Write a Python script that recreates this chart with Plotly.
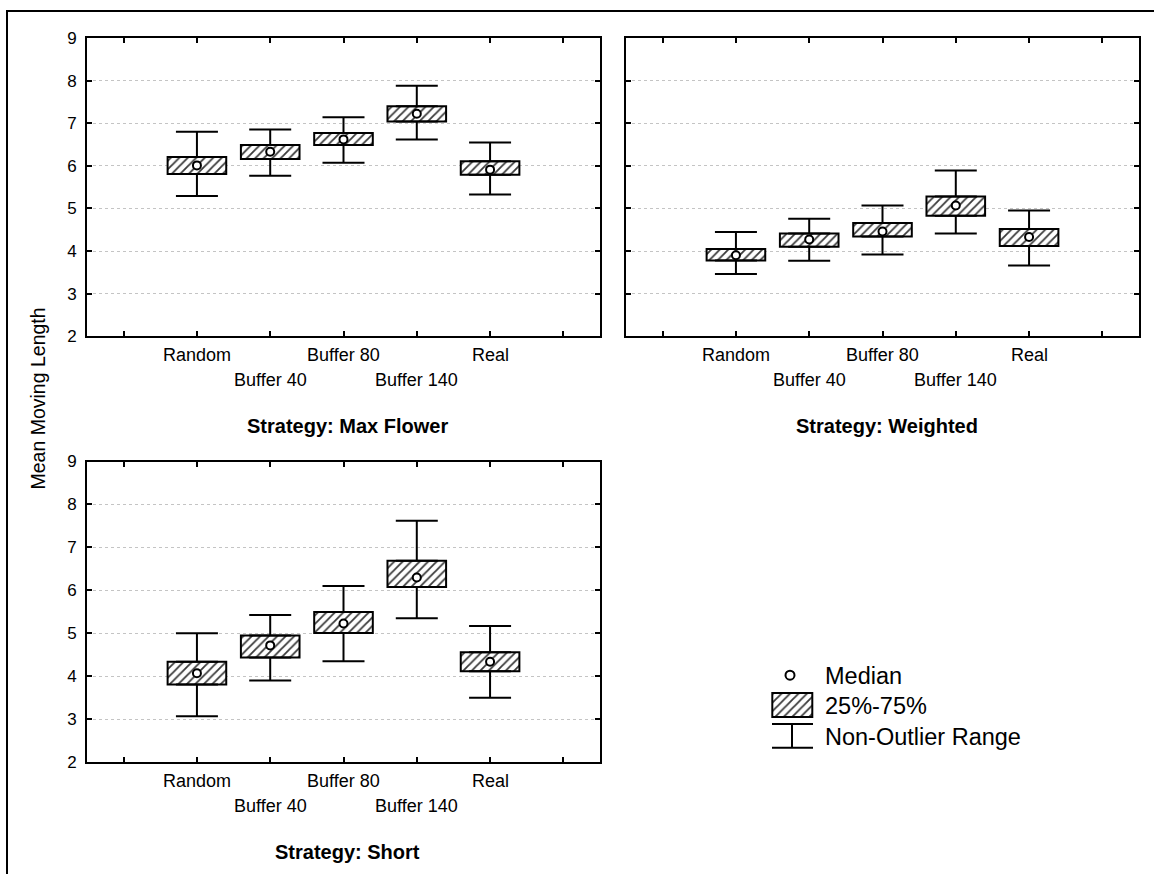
import plotly.graph_objects as go

# ---- data -------------------------------------------------------------
categories = ["Random", "Buffer 40", "Buffer 80", "Buffer 140", "Real"]

# Strategy: Max Flower
mf_low = [5.29, 5.77, 6.07, 6.62, 5.33]
mf_q1 = [5.81, 6.16, 6.49, 7.04, 5.79]
mf_med = [6.01, 6.33, 6.62, 7.22, 5.91]
mf_q3 = [6.21, 6.49, 6.77, 7.40, 6.11]
mf_high = [6.80, 6.85, 7.14, 7.88, 6.55]

# Strategy: Weighted
wt_low = [3.46, 3.77, 3.92, 4.41, 3.66]
wt_q1 = [3.78, 4.10, 4.34, 4.83, 4.12]
wt_med = [3.90, 4.27, 4.46, 5.07, 4.33]
wt_q3 = [4.05, 4.41, 4.66, 5.28, 4.52]
wt_high = [4.45, 4.76, 5.07, 5.89, 4.95]

# Strategy: Short
sh_low = [3.07, 3.90, 4.35, 5.35, 3.50]
sh_q1 = [3.81, 4.44, 5.01, 6.08, 4.12]
sh_med = [4.07, 4.72, 5.23, 6.30, 4.34]
sh_q3 = [4.34, 4.95, 5.50, 6.69, 4.56]
sh_high = [5.00, 5.43, 6.10, 7.62, 5.17]

panel_titles = ["Strategy: Max Flower", "Strategy: Weighted", "Strategy: Short"]
y_title = "Mean Moving Length"
legend_labels = ["Median", "25%-75%", "Non-Outlier Range"]

# ---- layout geometry (pixels) ----------------------------------------
W, H = 1154, 874
FONT = "Liberation Sans, Arial, sans-serif"

panels = [
    dict(x=(87, 600), y=(35.7, 335.5), ax="", stats=(mf_low, mf_q1, mf_med, mf_q3, mf_high)),
    dict(x=(626, 1139), y=(35.7, 335.5), ax="2", stats=(wt_low, wt_q1, wt_med, wt_q3, wt_high)),
    dict(x=(87, 600), y=(461.3, 763.5), ax="3", stats=(sh_low, sh_q1, sh_med, sh_q3, sh_high)),
]


def px_x(v):
    return v / W


def px_y(v):
    # vertical pixel offset -> paper fraction (with viewport correction)
    r = (v - 6.6) / 0.983
    return 1 - r / H


HATCH = dict(shape="/", fgcolor="#3a3a3a", bgcolor="white", size=6, solidity=0.3, fillmode="replace")

fig = go.Figure()
layout = dict(
    width=W, height=H,
    margin=dict(l=0, r=0, t=0, b=0),
    paper_bgcolor="white", plot_bgcolor="white",
    showlegend=False,
    font=dict(family=FONT, color="black"),
)
annotations = []
shapes = []

xpos = list(range(len(categories)))

for pi, p in enumerate(panels):
    ax = p["ax"]
    xa, ya = "x" + ax, "y" + ax
    low, q1, med, q3, high = p["stats"]

    # boxes (interquartile range)
    fig.add_trace(go.Bar(
        x=xpos, base=q1, y=[b - a for a, b in zip(q1, q3)],
        width=0.8, xaxis=xa, yaxis=ya,
        marker=dict(color="white", pattern=HATCH, line=dict(color="black", width=2)),
        hoverinfo="skip",
    ))
    # upper whiskers
    fig.add_trace(go.Scatter(
        x=xpos, y=q3, mode="markers", xaxis=xa, yaxis=ya,
        marker=dict(size=1, color="rgba(0,0,0,0)"),
        error_y=dict(type="data", symmetric=False,
                     array=[h - t for h, t in zip(high, q3)], arrayminus=[0] * len(q3),
                     width=21, thickness=2, color="black"),
        hoverinfo="skip",
    ))
    # lower whiskers
    fig.add_trace(go.Scatter(
        x=xpos, y=q1, mode="markers", xaxis=xa, yaxis=ya,
        marker=dict(size=1, color="rgba(0,0,0,0)"),
        error_y=dict(type="data", symmetric=False,
                     array=[0] * len(q1), arrayminus=[b - l for b, l in zip(q1, low)],
                     width=21, thickness=2, color="black"),
        hoverinfo="skip",
    ))
    # medians
    fig.add_trace(go.Scatter(
        x=xpos, y=med, mode="markers", xaxis=xa, yaxis=ya,
        marker=dict(symbol="circle", size=8, color="white", line=dict(color="black", width=2)),
        hoverinfo="skip",
    ))

    axis_common = dict(
        showline=True, linecolor="black", linewidth=2, mirror="allticks",
        ticks="inside", ticklen=5, tickwidth=1.5, tickcolor="black",
        zeroline=False, fixedrange=True,
    )
    layout["xaxis" + ax] = dict(
        axis_common,
        domain=[px_x(p["x"][0]), px_x(p["x"][1])],
        range=[-1.5, 5.5], tickvals=list(range(-1, 6)), showticklabels=False,
        showgrid=False, anchor=ya,
    )
    layout["yaxis" + ax] = dict(
        axis_common,
        domain=[px_y(p["y"][1]), px_y(p["y"][0])],
        range=[2, 9], dtick=1, tick0=2,
        showgrid=True, gridcolor="#c4c4c4", griddash="dot", gridwidth=1,
        showticklabels=(ax != "2"), ticklabelstandoff=5,
        tickfont=dict(size=17, family=FONT, color="black"),
        anchor=xa,
    )

    # staggered category labels
    bottom = p["y"][1]
    for i, c in enumerate(categories):
        row = i % 2
        annotations.append(dict(
            text=c, x=i, xref=xa, yref="paper",
            y=px_y(bottom + 19 + 25 * row), yanchor="middle", xanchor="center",
            showarrow=False, font=dict(size=18, family=FONT, color="black"),
        ))
    # panel title
    annotations.append(dict(
        text="<b>" + panel_titles[pi] + "</b>", xref="paper", yref="paper",
        x=px_x((p["x"][0] + p["x"][1]) / 2 + 4), y=px_y(bottom + 90),
        xanchor="center", yanchor="middle", showarrow=False,
        font=dict(size=20, family=FONT, color="black"),
    ))

# y axis title
annotations.append(dict(
    text=y_title, xref="paper", yref="paper", x=px_x(38), y=px_y(398),
    textangle=-90, xanchor="center", yanchor="middle", showarrow=False,
    font=dict(size=19.5, family=FONT, color="black"),
))

# ---- legend, drawn on a hidden pixel-unit axis ------------------------
LX0, LX1, LY0, LY1 = 760, 830, 665, 760
layout["xaxis4"] = dict(domain=[px_x(LX0), px_x(LX1)], range=[LX0, LX1], visible=False,
                        anchor="y4", fixedrange=True)
layout["yaxis4"] = dict(domain=[px_y(LY1), px_y(LY0)], range=[LY1, LY0], visible=False,
                        anchor="x4", fixedrange=True)

fig.add_trace(go.Scatter(
    x=[790], y=[676], mode="markers", xaxis="x4", yaxis="y4",
    marker=dict(symbol="circle", size=9, color="white", line=dict(color="black", width=2)),
    hoverinfo="skip",
))
fig.add_trace(go.Bar(
    x=[792.3], base=[694], y=[24], width=40, xaxis="x4", yaxis="y4",
    marker=dict(color="white", pattern=HATCH, line=dict(color="black", width=2)),
    hoverinfo="skip",
))
fig.add_trace(go.Scatter(
    x=[772, 813, None, 792, 792, None, 772, 813],
    y=[725, 725, None, 725, 749, None, 749, 749],
    mode="lines", xaxis="x4", yaxis="y4",
    line=dict(color="black", width=2), hoverinfo="skip",
))
for txt, yy in zip(legend_labels, [677, 707, 738]):
    annotations.append(dict(
        text=txt, xref="paper", yref="paper", x=px_x(823), y=px_y(yy),
        xanchor="left", yanchor="middle", showarrow=False,
        font=dict(size=23.5, family=FONT, color="black"),
    ))

# outer frame (left and top edges visible)
shapes.append(dict(
    type="rect", xref="paper", yref="paper",
    x0=px_x(7), x1=1.3, y0=-0.3, y1=px_y(8.5),
    line=dict(color="black", width=2), fillcolor="rgba(0,0,0,0)",
))

layout["annotations"] = annotations
layout["shapes"] = shapes
fig.update_layout(**layout)

fig.write_html("out.html")
